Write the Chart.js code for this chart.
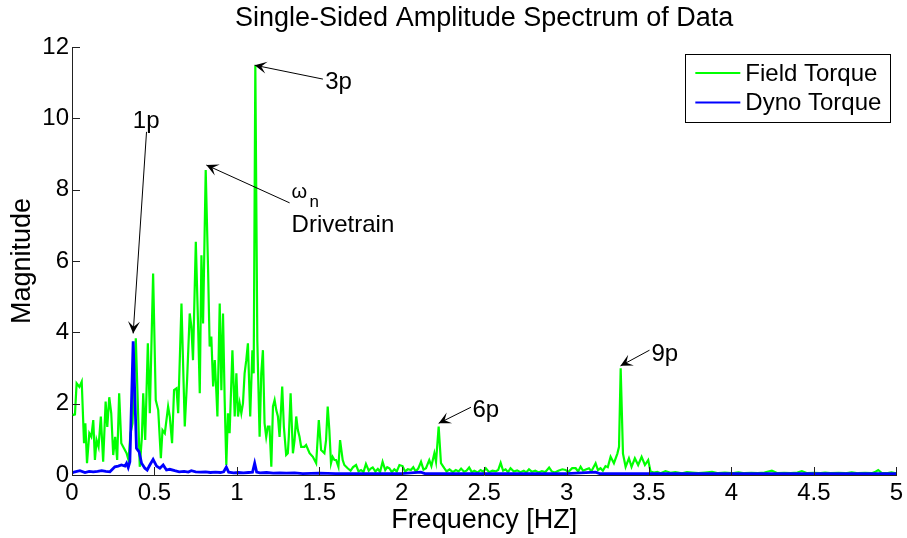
<!DOCTYPE html>
<html>
<head>
<meta charset="utf-8">
<script src="https://cdn.jsdelivr.net/npm/chart.js@4.4.0/dist/chart.umd.min.js"></script>
<style>
  html, body { margin: 0; padding: 0; background: #fff; }
</style>
</head>
<body>
<canvas id="spectrum" width="907" height="538"></canvas>
<script>
const fieldHz = [0.004, 0.018, 0.028, 0.045, 0.059, 0.073, 0.081, 0.091, 0.105, 0.117, 0.129, 0.139, 0.149, 0.161, 0.175, 0.189,
  0.204, 0.214, 0.226, 0.238, 0.25, 0.262, 0.274, 0.286, 0.299, 0.315, 0.331, 0.343, 0.355, 0.367, 0.387, 0.411, 0.424, 0.432,
  0.444, 0.46, 0.472, 0.492, 0.508, 0.523, 0.539, 0.549, 0.563, 0.583, 0.593, 0.607, 0.619, 0.634, 0.644, 0.664, 0.684, 0.698,
  0.714, 0.724, 0.734, 0.751, 0.765, 0.775, 0.785, 0.795, 0.811, 0.825, 0.835, 0.845, 0.856, 0.866, 0.876, 0.882, 0.896, 0.906,
  0.916, 0.926, 0.936, 0.946, 0.956, 0.973, 0.987, 0.997, 1.007, 1.017, 1.027, 1.037, 1.047, 1.057, 1.067, 1.081, 1.094, 1.102,
  1.112, 1.124, 1.138, 1.148, 1.158, 1.168, 1.178, 1.188, 1.198, 1.209, 1.219, 1.229, 1.239, 1.249, 1.259, 1.275, 1.285, 1.299,
  1.309, 1.315, 1.326, 1.34, 1.35, 1.36, 1.37, 1.38, 1.39, 1.41, 1.42, 1.441, 1.461, 1.481, 1.497, 1.511, 1.531, 1.541, 1.551,
  1.561, 1.571, 1.581, 1.592, 1.602, 1.616, 1.626, 1.642, 1.652, 1.672, 1.69, 1.705, 1.723, 1.738, 1.753, 1.768, 1.783, 1.8,
  1.812, 1.824, 1.84, 1.855, 1.869, 1.884, 1.9, 1.912, 1.925, 1.94, 1.955, 1.97, 1.986, 2.005, 2.02, 2.037, 2.056, 2.07, 2.085,
  2.1, 2.117, 2.132, 2.147, 2.167, 2.18, 2.198, 2.208, 2.224, 2.238, 2.258, 2.272, 2.29, 2.31, 2.328, 2.345, 2.36, 2.378, 2.393,
  2.409, 2.425, 2.44, 2.46, 2.478, 2.495, 2.51, 2.53, 2.55, 2.57, 2.585, 2.6, 2.615, 2.63, 2.645, 2.66, 2.68, 2.7, 2.72, 2.74,
  2.755, 2.772, 2.79, 2.81, 2.83, 2.85, 2.87, 2.894, 2.91, 2.93, 2.95, 2.974, 2.994, 3.01, 3.034, 3.055, 3.07, 3.085, 3.1, 3.12,
  3.136, 3.15, 3.176, 3.19, 3.206, 3.22, 3.236, 3.25, 3.267, 3.287, 3.308, 3.318, 3.328, 3.342, 3.358, 3.378, 3.394, 3.414,
  3.434, 3.455, 3.475, 3.495, 3.509, 3.53, 3.55, 3.57, 3.6, 3.63, 3.66, 3.7, 3.73, 3.761, 3.8, 3.84, 3.882, 3.92, 3.96, 4.0,
  4.043, 4.08, 4.12, 4.16, 4.2, 4.245, 4.28, 4.32, 4.36, 4.4, 4.427, 4.46, 4.5, 4.54, 4.568, 4.6, 4.65, 4.69, 4.729, 4.77, 4.81,
  4.85, 4.87, 4.89, 4.91, 4.94, 4.97, 5.0];
const fieldMag = [1.68, 1.7, 2.57, 2.47, 2.62, 0.89, 1.45, 0.33, 1.17, 1.07, 1.54, 0.42, 0.98, 0.79, 1.64, 0.37,
  2.06, 1.35, 2.18, 1.73, 0.56, 1.07, 0.42, 2.29, 0.89, 0.75, 0.61, 0.42, 1.17, 1.45, 3.83, 0.23, 1.07, 2.29,
  0.98, 3.69, 1.73, 5.65, 2.1, 1.82, 0.47, 1.26, 1.17, 1.92, 1.64, 0.89, 2.38, 2.43, 1.73, 4.81, 1.36, 2.66,
  4.53, 4.16, 3.22, 6.54, 4.16, 2.29, 6.16, 4.25, 8.55, 5.84, 3.6, 3.88, 2.48, 3.22, 2.29, 1.64, 4.81, 2.38,
  4.53, 2.1, 0.28, 1.73, 1.17, 3.5, 1.64, 2.85, 1.64, 2.01, 1.73, 2.01, 2.85, 3.22, 3.69, 1.64, 3.5, 2.85,
  11.49, 3.78, 1.07, 2.85, 3.5, 1.45, 1.07, 1.36, 1.36, 0.23, 1.92, 2.1, 1.82, 1.64, 1.07, 2.48, 1.36, 0.56,
  0.61, 1.07, 2.29, 0.61, 0.98, 1.64, 1.26, 1.07, 0.79, 0.79, 0.84, 0.61, 0.51, 0.33, 1.54, 0.7, 0.61, 0.98, 1.92,
  1.26, 0.33, 0.51, 0.42, 0.42, 0.23, 0.98, 0.42, 0.28, 0.19, 0.12, 0.22, 0.28, 0.1, 0.14, 0.08, 0.31, 0.12,
  0.18, 0.21, 0.1, 0.17, 0.09, 0.37, 0.14, 0.22, 0.19, 0.08, 0.16, 0.1, 0.28, 0.25, 0.1, 0.16, 0.14, 0.22, 0.1,
  0.18, 0.37, 0.15, 0.19, 0.42, 0.25, 0.61, 0.37, 1.36, 0.33, 0.19, 0.1, 0.16, 0.08, 0.14, 0.1, 0.18, 0.09, 0.12,
  0.21, 0.08, 0.12, 0.07, 0.14, 0.09, 0.19, 0.08, 0.12, 0.1, 0.14, 0.34, 0.12, 0.16, 0.08, 0.19, 0.1, 0.13, 0.08, 0.12,
  0.07, 0.16, 0.09, 0.12, 0.07, 0.11, 0.08, 0.21, 0.1, 0.07, 0.12, 0.16, 0.14, 0.08, 0.19, 0.19, 0.1, 0.23, 0.12, 0.16,
  0.19, 0.1, 0.33, 0.14, 0.19, 0.12, 0.25, 0.22, 0.51, 0.33, 0.6, 0.79, 2.99, 0.6, 0.23, 0.47, 0.23, 0.47,
  0.28, 0.51, 0.28, 0.42, 0.1, 0.07, 0.09, 0.05, 0.11, 0.06, 0.08, 0.05, 0.08, 0.065, 0.05, 0.07, 0.09, 0.05, 0.07, 0.05,
  0.075, 0.05, 0.06, 0.05, 0.07, 0.12, 0.05, 0.06, 0.05, 0.07, 0.11, 0.05, 0.06, 0.05, 0.065, 0.05, 0.06, 0.05, 0.075, 0.05, 0.06,
  0.05, 0.08, 0.14, 0.06, 0.05, 0.075, 0.05];

const dynoHz = [0, 0.018, 0.048, 0.079, 0.104, 0.129, 0.155, 0.18, 0.205, 0.23, 0.26, 0.28, 0.3, 0.321, 0.331, 0.341, 0.351,
  0.371, 0.391, 0.407, 0.422, 0.442, 0.456, 0.472, 0.492, 0.513, 0.533, 0.553, 0.573, 0.593, 0.623, 0.65, 0.68, 0.705,
  0.724, 0.75, 0.78, 0.81, 0.84, 0.87, 0.9, 0.92, 0.936, 0.95, 0.98, 1.01, 1.04, 1.07, 1.095, 1.108, 1.12, 1.14, 1.18,
  1.22, 1.26, 1.3, 1.35, 1.4, 1.5, 1.6, 1.8, 2.0, 2.116, 2.14, 2.5, 3.0, 3.176, 3.2, 3.7, 4.2, 4.7, 5.0];
const dynoMag = [0.06, 0.09, 0.12, 0.07, 0.1, 0.09, 0.1, 0.12, 0.1, 0.09, 0.23, 0.25, 0.28, 0.25, 0.33, 0.21, 0.37,
  3.75, 0.75, 0.65, 0.33, 0.19, 0.14, 0.28, 0.44, 0.25, 0.19, 0.28, 0.14, 0.16, 0.12, 0.09, 0.1, 0.08,
  0.12, 0.09, 0.08, 0.09, 0.07, 0.08, 0.07, 0.09, 0.22, 0.08, 0.06, 0.07, 0.06, 0.07, 0.08, 0.33, 0.08, 0.06, 0.07,
  0.05, 0.06, 0.05, 0.06, 0.04, 0.05, 0.04, 0.04, 0.04, 0.08, 0.04, 0.04, 0.04, 0.08, 0.04, 0.04, 0.04, 0.04, 0.04];

const seriesNames = ['Field Torque', 'Dyno Torque'];
const xTicks = [0, 0.5, 1, 1.5, 2, 2.5, 3, 3.5, 4, 4.5, 5];
const yTicks = [0, 2, 4, 6, 8, 10, 12];

// labels and arrows, placed in data units
const notes = [
  { text: '1p', x: 0.369, y: 9.73, from: [0.452, 9.62], to: [0.371, 3.97] },
  { text: '3p', x: 1.536, y: 10.82, from: [1.522, 11.1], to: [1.108, 11.49] },
  { text: 'Drivetrain', x: 1.332, y: 6.8, from: [1.32, 7.63], to: [0.815, 8.69] },
  { text: '6p', x: 2.429, y: 1.63, from: [2.42, 1.9], to: [2.224, 1.45] },
  { text: '9p', x: 3.515, y: 3.2, from: [3.503, 3.5], to: [3.327, 3.06] }
];

const FONT = '"Liberation Sans", Arial, Helvetica, sans-serif';

function toPoints(xs, ys) {
  return xs.map((x, i) => ({ x: x, y: ys[i] }));
}

function drawArrow(ctx, x1, y1, x2, y2) {
  ctx.beginPath();
  ctx.moveTo(x1, y1);
  ctx.lineTo(x2, y2);
  ctx.stroke();
  let a = Math.atan2(y2 - y1, x2 - x1);
  let len = 12, w = 6;
  let c = Math.cos(a), s = Math.sin(a);
  ctx.beginPath();
  ctx.moveTo(x2, y2);
  ctx.lineTo(x2 - len * c + w * s, y2 - len * s - w * c);
  ctx.lineTo(x2 - len * 0.55 * c, y2 - len * 0.55 * s);
  ctx.lineTo(x2 - len * c - w * s, y2 - len * s + w * c);
  ctx.closePath();
  ctx.fill();
}

const axisTicks = {
  id: 'axisTicks',
  afterDraw(chart) {
    let ctx = chart.ctx, x = chart.scales.x, y = chart.scales.y;
    let area = chart.chartArea;
    ctx.save();
    ctx.strokeStyle = '#222';
    ctx.lineWidth = 1;
    ctx.beginPath();
    xTicks.forEach(v => {
      let px = Math.round(x.getPixelForValue(v)) + 0.5;
      ctx.moveTo(px, area.bottom);
      ctx.lineTo(px, area.bottom - 8);
    });
    yTicks.forEach(v => {
      let py = Math.round(y.getPixelForValue(v)) + 0.5;
      ctx.moveTo(area.left, py);
      ctx.lineTo(area.left + 8, py);
    });
    ctx.stroke();
    ctx.restore();
  }
};

// title centred over the plot area, like the original figure
const plotTitle = {
  id: 'plotTitle',
  afterDraw(chart) {
    let ctx = chart.ctx, area = chart.chartArea;
    ctx.save();
    ctx.fillStyle = '#000';
    ctx.font = '27px ' + FONT;
    ctx.textAlign = 'center';
    ctx.textBaseline = 'middle';
    ctx.fillText('Single-Sided Amplitude Spectrum of Data', (area.left + area.right) / 2, 19);
    ctx.restore();
  }
};

const notesPlugin = {
  id: 'notes',
  afterDatasetsDraw(chart) {
    let ctx = chart.ctx, x = chart.scales.x, y = chart.scales.y;
    ctx.save();
    ctx.fillStyle = '#000';
    ctx.strokeStyle = '#000';
    ctx.lineWidth = 1;
    ctx.font = '24px ' + FONT;
    ctx.textAlign = 'left';
    ctx.textBaseline = 'alphabetic';
    notes.forEach(n => {
      ctx.fillText(n.text, x.getPixelForValue(n.x), y.getPixelForValue(n.y));
      drawArrow(ctx, x.getPixelForValue(n.from[0]), y.getPixelForValue(n.from[1]),
        x.getPixelForValue(n.to[0]), y.getPixelForValue(n.to[1]));
    });
    // omega_n above "Drivetrain"
    ctx.font = '20px ' + FONT;
    ctx.fillText('\u03C9', x.getPixelForValue(1.332), y.getPixelForValue(7.77));
    ctx.font = '17px ' + FONT;
    ctx.fillText('n', x.getPixelForValue(1.441), y.getPixelForValue(7.51));
    ctx.restore();
  }
};

const boxLegend = {
  id: 'boxLegend',
  afterDraw(chart) {
    let ctx = chart.ctx, area = chart.chartArea;
    let bx = area.right - 211, by = area.top + 7, bw = 205, bh = 68;
    ctx.save();
    ctx.fillStyle = '#fff';
    ctx.fillRect(bx, by, bw, bh);
    ctx.strokeStyle = '#000';
    ctx.lineWidth = 1;
    ctx.strokeRect(Math.round(bx) + 0.5, Math.round(by) + 0.5, bw, bh);
    ctx.font = '24px ' + FONT;
    ctx.textBaseline = 'middle';
    ctx.textAlign = 'left';
    chart.data.datasets.forEach((ds, i) => {
      let ly = by + 19 + i * 29.5;
      ctx.strokeStyle = ds.borderColor;
      ctx.lineWidth = 2;
      ctx.beginPath();
      ctx.moveTo(bx + 10, ly);
      ctx.lineTo(bx + 55, ly);
      ctx.stroke();
      ctx.fillStyle = '#000';
      ctx.fillText(ds.label, bx + 60, ly + 1);
    });
    ctx.restore();
  }
};

let ctx = document.getElementById('spectrum').getContext('2d');

let myChart = new Chart(ctx, {
  type: 'line',
  data: {
    datasets: [{
      label: seriesNames[0],
      data: toPoints(fieldHz, fieldMag),
      borderColor: '#00ff00',
      borderWidth: 2.2,
      pointRadius: 0,
      tension: 0,
      order: 1
    }, {
      label: seriesNames[1],
      data: toPoints(dynoHz, dynoMag),
      borderColor: '#0000ff',
      borderWidth: 2.8,
      pointRadius: 0,
      tension: 0,
      order: 0
    }]
  },
  options: {
    responsive: false,
    animation: false,
    devicePixelRatio: 1,
    layout: { padding: { left: 0, right: 9, top: 47, bottom: 0 } },
    plugins: {
      legend: { display: false },
      tooltip: { enabled: false },
      title: { display: false }
    },
    scales: {
      x: {
        type: 'linear',
        min: 0,
        max: 5,
        afterBuildTicks(scale) { scale.ticks = xTicks.map(v => ({ value: v })); },
        afterFit(scale) { scale.height = 63; },
        ticks: {
          color: '#000', font: { family: FONT, size: 24 }, padding: 4, maxRotation: 0, autoSkip: false,
          callback: v => String(v)
        },
        grid: { drawOnChartArea: false, drawTicks: false },
        border: { display: true, color: '#222', width: 1 },
        title: { display: true, text: 'Frequency [HZ]', color: '#000', font: { family: FONT, size: 27 }, padding: { top: 0, bottom: 1 } }
      },
      y: {
        min: 0,
        max: 12,
        afterBuildTicks(scale) { scale.ticks = yTicks.map(v => ({ value: v })); },
        afterFit(scale) { scale.width = 72; },
        ticks: { color: '#000', font: { family: FONT, size: 24 }, padding: 3, callback: v => String(v) },
        grid: { drawOnChartArea: false, drawTicks: false },
        border: { display: true, color: '#222', width: 1 },
        title: { display: true, text: 'Magnitude', color: '#000', font: { family: FONT, size: 27 }, padding: { top: 6, bottom: 0 } }
      }
    }
  },
  plugins: [axisTicks, plotTitle, notesPlugin, boxLegend]
});
</script>
</body>
</html>
